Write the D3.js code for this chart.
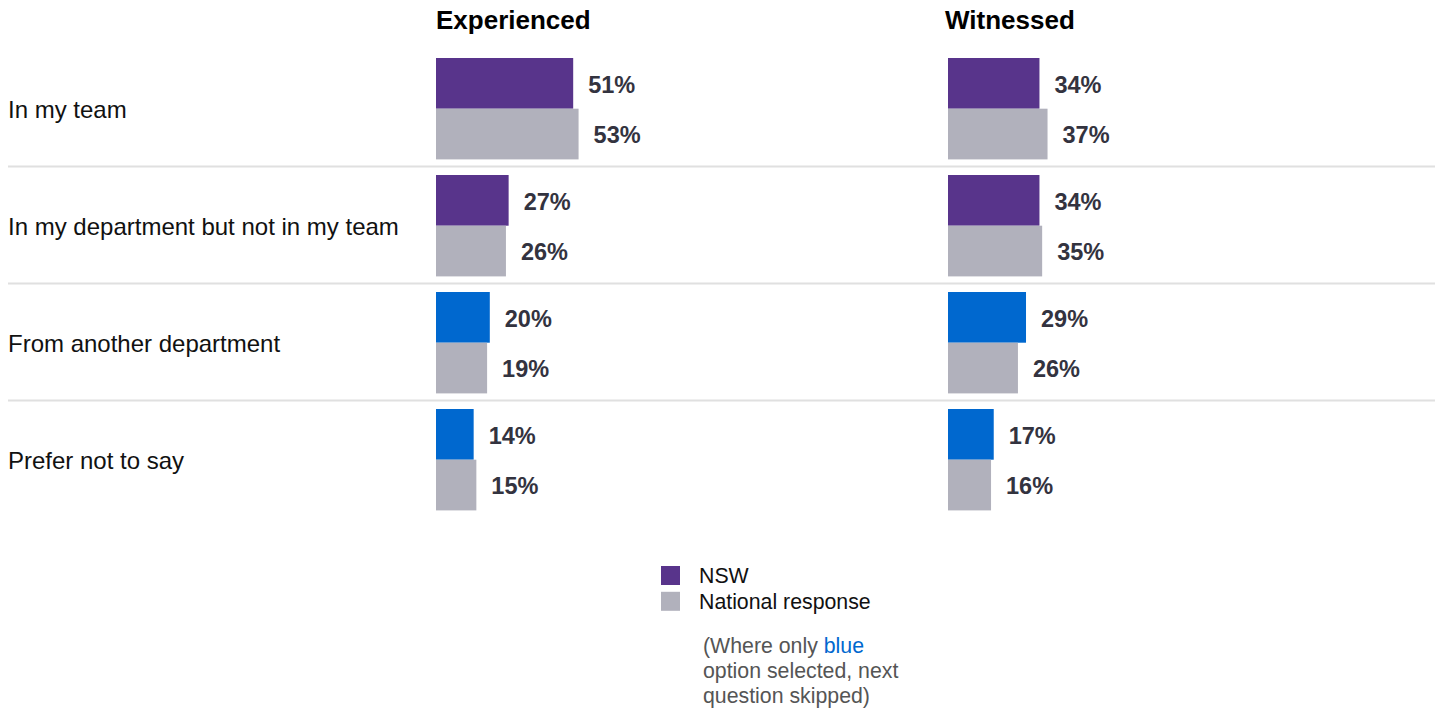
<!DOCTYPE html>
<html>
<head>
<meta charset="utf-8">
<script src="https://cdn.jsdelivr.net/npm/d3@7"></script>
<style>
	body { margin: 0; background: #fff; }
	svg text { font-family: "Liberation Sans", Arial, sans-serif; }
</style>
</head>
<body>
<div id="chart"></div>
<script>
let width = 1440
let height = 711

// data
let categories = ['In my team', 'In my department but not in my team', 'From another department', 'Prefer not to say']
let blueOption = [false, false, true, true]
let panels = ['Experienced', 'Witnessed']
let experiencedNSW = [51, 27, 20, 14]
let experiencedNational = [53, 26, 19, 15]
let witnessedNSW = [34, 34, 29, 17]
let witnessedNational = [37, 35, 26, 16]
let seriesNames = ['NSW', 'National response']

let colors = {
	'purple': '#58348b',
	'blue': '#0068cf',
	'grey': '#b1b1bc',
}

let svg = d3.select('#chart').append('svg')
	.attr('width', width)
	.attr('height', height)

let yScale = d3.scaleBand()
	.domain(categories)
	.range([50.5, 50.5 + 117 * categories.length])

let subScale = d3.scaleBand()
	.domain(['nsw', 'national'])
	.range([7.5, 108.9])

let panelX = d3.scaleOrdinal()
	.domain(panels)
	.range([436, 948])

let titleX = d3.scaleOrdinal()
	.domain(panels)
	.range([436, 945])

let xScale = d3.scaleLinear()
	.domain([0, 100])
	.range([0, 269])

// separators
svg.append('g').selectAll('line')
	.data(categories.slice(0, categories.length - 1))
	.enter().append('line')
	.attr('x1', 8)
	.attr('x2', 1435)
	.attr('y1', d => yScale(d) + yScale.step() - 1)
	.attr('y2', d => yScale(d) + yScale.step() - 1)
	.attr('stroke', '#e0e0e0')
	.attr('stroke-width', 2)

// category labels
svg.append('g').selectAll('text')
	.data(categories)
	.enter().append('text')
	.attr('x', 8)
	.attr('y', d => yScale(d) + (subScale.range()[0] + subScale.range()[1]) / 2 + 1)
	.attr('dy', '0.35em')
	.attr('font-size', 24)
	.attr('fill', '#111')
	.text(d => d)

let panelData = {
	'Experienced': { nsw: experiencedNSW, national: experiencedNational },
	'Witnessed': { nsw: witnessedNSW, national: witnessedNational },
}

panels.forEach(p => {
	svg.append('text')
		.attr('x', titleX(p))
		.attr('y', 29)
		.attr('font-size', 26)
		.attr('font-weight', 'bold')
		.attr('fill', '#000')
		.text(p)

	let g = svg.append('g').attr('transform', `translate(${panelX(p)},0)`)

	let rows = []
	categories.forEach((c, i) => {
		rows.push({ cat: c, key: 'nsw', value: panelData[p].nsw[i], blue: blueOption[i] })
		rows.push({ cat: c, key: 'national', value: panelData[p].national[i], blue: blueOption[i] })
	})

	g.selectAll('rect')
		.data(rows)
		.enter().append('rect')
		.attr('x', 0)
		.attr('y', d => yScale(d.cat) + subScale(d.key))
		.attr('width', d => xScale(d.value))
		.attr('height', subScale.bandwidth())
		.attr('fill', d => d.key == 'national' ? colors.grey : (d.blue ? colors.blue : colors.purple))

	g.selectAll('text.value')
		.data(rows)
		.enter().append('text')
		.attr('class', 'value')
		.attr('x', d => xScale(d.value) + 15)
		.attr('y', d => yScale(d.cat) + subScale(d.key) + subScale.bandwidth() / 2 + 1)
		.attr('dy', '0.35em')
		.attr('font-size', 23.5)
		.attr('font-weight', 'bold')
		.attr('fill', '#33333f')
		.text(d => d.value + '%')
})

// legend
let legend = svg.append('g').attr('transform', 'translate(661,566)')
legend.selectAll('rect')
	.data(seriesNames)
	.enter().append('rect')
	.attr('x', 0)
	.attr('y', (d, i) => i * 25.8)
	.attr('width', 19)
	.attr('height', 19)
	.attr('fill', (d, i) => i == 0 ? colors.purple : colors.grey)

legend.selectAll('text')
	.data(seriesNames)
	.enter().append('text')
	.attr('x', 38)
	.attr('y', (d, i) => i * 25.8 + 9.5)
	.attr('dy', '0.35em')
	.attr('font-size', 21.3)
	.attr('fill', '#111')
	.text(d => d)

let note = svg.append('text')
	.attr('x', 703)
	.attr('y', 653)
	.attr('font-size', 21.3)
	.attr('fill', '#555')

let line1 = note.append('tspan').attr('x', 703)
line1.append('tspan').text('(Where only ')
line1.append('tspan').attr('fill', colors.blue).text('blue')
note.append('tspan').attr('x', 703).attr('dy', 25).text('option selected, next')
note.append('tspan').attr('x', 703).attr('dy', 25).text('question skipped)')
</script>
</body>
</html>
